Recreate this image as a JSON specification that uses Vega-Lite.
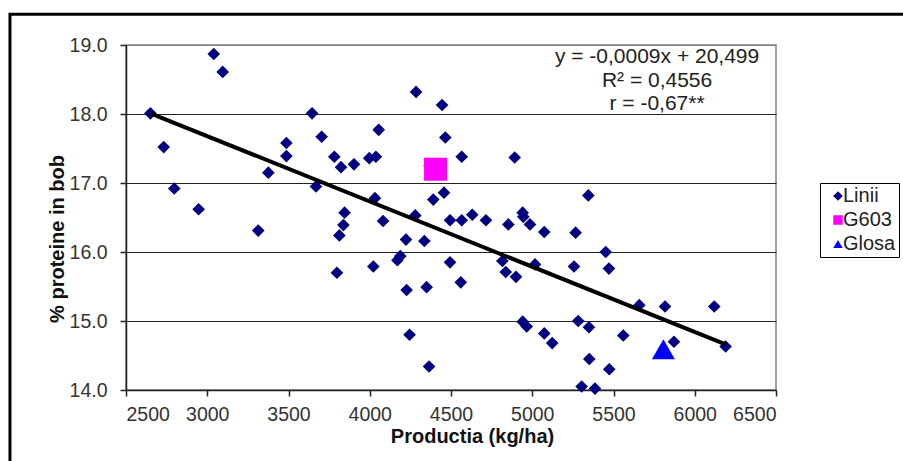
{
  "$schema": "https://vega.github.io/schema/vega-lite/v6.json",
  "autosize": {"type": "none"},
  "width": 650,
  "height": 345,
  "padding": {"left": 126, "top": 45, "right": 127, "bottom": 71},
  "background": "white",
  "config": {
    "font": "Liberation Sans",
    "view": {"stroke": "#808080", "strokeWidth": 1.5},
    "axis": {
      "labelFont": "Liberation Sans",
      "labelFontSize": 19.5,
      "labelColor": "#333",
      "titleFont": "Liberation Sans",
      "titleColor": "#111",
      "domainColor": "#222",
      "domainWidth": 1.5,
      "tickColor": "#222",
      "tickWidth": 1.5,
      "tickSize": 6
    },
    "legend": {
      "title": null,
      "orient": "none",
      "legendX": 694,
      "legendY": 138,
      "strokeColor": "black",
      "fillColor": "white",
      "padding": 3,
      "symbolSize": 90,
      "symbolOffset": 5,
      "symbolStrokeWidth": 0,
      "labelFont": "Liberation Sans",
      "labelFontSize": 20,
      "labelColor": "#222",
      "labelOffset": -5,
      "rowPadding": 4
    }
  },
  "datasets": {
    "pts": [
      {"x": 2650, "y": 18.01, "grp": "Linii"},
      {"x": 2732, "y": 17.52, "grp": "Linii"},
      {"x": 2797, "y": 16.92, "grp": "Linii"},
      {"x": 2947, "y": 16.62, "grp": "Linii"},
      {"x": 3040, "y": 18.87, "grp": "Linii"},
      {"x": 3095, "y": 18.61, "grp": "Linii"},
      {"x": 3314, "y": 16.31, "grp": "Linii"},
      {"x": 3376, "y": 17.15, "grp": "Linii"},
      {"x": 3487, "y": 17.58, "grp": "Linii"},
      {"x": 3487, "y": 17.39, "grp": "Linii"},
      {"x": 3645, "y": 18.01, "grp": "Linii"},
      {"x": 3669, "y": 16.95, "grp": "Linii"},
      {"x": 3704, "y": 17.67, "grp": "Linii"},
      {"x": 3782, "y": 17.38, "grp": "Linii"},
      {"x": 3823, "y": 17.23, "grp": "Linii"},
      {"x": 3798, "y": 15.70, "grp": "Linii"},
      {"x": 3813, "y": 16.24, "grp": "Linii"},
      {"x": 3838, "y": 16.39, "grp": "Linii"},
      {"x": 3845, "y": 16.57, "grp": "Linii"},
      {"x": 3903, "y": 17.27, "grp": "Linii"},
      {"x": 3997, "y": 17.36, "grp": "Linii"},
      {"x": 4038, "y": 17.38, "grp": "Linii"},
      {"x": 4055, "y": 17.77, "grp": "Linii"},
      {"x": 4032, "y": 16.78, "grp": "Linii"},
      {"x": 4022, "y": 15.79, "grp": "Linii"},
      {"x": 4082, "y": 16.45, "grp": "Linii"},
      {"x": 4170, "y": 15.88, "grp": "Linii"},
      {"x": 4188, "y": 15.94, "grp": "Linii"},
      {"x": 4223, "y": 16.18, "grp": "Linii"},
      {"x": 4227, "y": 15.45, "grp": "Linii"},
      {"x": 4245, "y": 14.80, "grp": "Linii"},
      {"x": 4280, "y": 16.53, "grp": "Linii"},
      {"x": 4285, "y": 18.32, "grp": "Linii"},
      {"x": 4336, "y": 16.16, "grp": "Linii"},
      {"x": 4350, "y": 15.49, "grp": "Linii"},
      {"x": 4365, "y": 14.34, "grp": "Linii"},
      {"x": 4368, "y": 17.25, "grp": "Linii"},
      {"x": 4391, "y": 16.76, "grp": "Linii"},
      {"x": 4445, "y": 18.13, "grp": "Linii"},
      {"x": 4457, "y": 16.86, "grp": "Linii"},
      {"x": 4465, "y": 17.66, "grp": "Linii"},
      {"x": 4494, "y": 16.46, "grp": "Linii"},
      {"x": 4494, "y": 15.85, "grp": "Linii"},
      {"x": 4560, "y": 15.56, "grp": "Linii"},
      {"x": 4566, "y": 17.38, "grp": "Linii"},
      {"x": 4566, "y": 16.46, "grp": "Linii"},
      {"x": 4631, "y": 16.54, "grp": "Linii"},
      {"x": 4715, "y": 16.46, "grp": "Linii"},
      {"x": 4816, "y": 15.87, "grp": "Linii"},
      {"x": 4837, "y": 15.71, "grp": "Linii"},
      {"x": 4853, "y": 16.40, "grp": "Linii"},
      {"x": 4892, "y": 17.37, "grp": "Linii"},
      {"x": 4900, "y": 15.64, "grp": "Linii"},
      {"x": 4941, "y": 16.57, "grp": "Linii"},
      {"x": 4945, "y": 16.51, "grp": "Linii"},
      {"x": 4941, "y": 14.99, "grp": "Linii"},
      {"x": 4966, "y": 14.92, "grp": "Linii"},
      {"x": 4986, "y": 16.40, "grp": "Linii"},
      {"x": 5017, "y": 15.82, "grp": "Linii"},
      {"x": 5074, "y": 16.29, "grp": "Linii"},
      {"x": 5074, "y": 14.82, "grp": "Linii"},
      {"x": 5123, "y": 14.68, "grp": "Linii"},
      {"x": 5267, "y": 16.28, "grp": "Linii"},
      {"x": 5257, "y": 15.79, "grp": "Linii"},
      {"x": 5283, "y": 15.00, "grp": "Linii"},
      {"x": 5304, "y": 14.05, "grp": "Linii"},
      {"x": 5345, "y": 16.82, "grp": "Linii"},
      {"x": 5349, "y": 14.91, "grp": "Linii"},
      {"x": 5351, "y": 14.45, "grp": "Linii"},
      {"x": 5386, "y": 14.02, "grp": "Linii"},
      {"x": 5452, "y": 16.00, "grp": "Linii"},
      {"x": 5472, "y": 15.76, "grp": "Linii"},
      {"x": 5474, "y": 14.30, "grp": "Linii"},
      {"x": 5560, "y": 14.79, "grp": "Linii"},
      {"x": 5659, "y": 15.23, "grp": "Linii"},
      {"x": 5817, "y": 15.21, "grp": "Linii"},
      {"x": 5872, "y": 14.70, "grp": "Linii"},
      {"x": 6120, "y": 15.21, "grp": "Linii"},
      {"x": 6190, "y": 14.63, "grp": "Linii"},
      {"x": 4405, "y": 17.20, "grp": "G603"},
      {"x": 5807, "y": 14.59, "grp": "Glosa"}
    ],
    "trend": [
      {"x": 2650, "y": 18.01},
      {"x": 6190, "y": 14.66}
    ],
    "note": [
      {"t": "y = -0,0009x  + 20,499\nR² = 0,4556\nr = -0,67**"}
    ],
    "frame": [{"id": 1}]
  },
  "layer": [
    {
      "data": {"name": "frame"},
      "mark": {"type": "rect", "fill": null, "stroke": "black", "strokeWidth": 3, "clip": false},
      "encoding": {
        "x": {"datum": 1786, "type": "quantitative"},
        "x2": {"datum": 7450},
        "y": {"datum": 19.445, "type": "quantitative"},
        "y2": {"datum": 12.6}
      }
    },
    {
      "data": {"name": "pts"},
      "transform": [{"filter": "datum.grp === 'Linii'"}],
      "mark": {"type": "point", "filled": true, "opacity": 1, "strokeWidth": 0, "size": 160},
      "encoding": {
        "x": {
          "field": "x", "type": "quantitative",
          "scale": {"domain": [2500, 6500], "nice": false, "zero": false},
          "axis": {
            "values": [2500, 3000, 3500, 4000, 4500, 5000, 5500, 6000, 6500],
            "grid": false,
            "format": "d",
            "labelPadding": 9,
            "title": "Productia (kg/ha)",
            "titleFontSize": 20,
            "titleFontWeight": "bold",
            "titleX": 346,
            "titleY": 52,
            "titleBaseline": "alphabetic",
            "titleAlign": "center"
          }
        },
        "y": {
          "field": "y", "type": "quantitative",
          "scale": {"domain": [14, 19], "nice": false, "zero": false},
          "axis": {
            "values": [14, 15, 16, 17, 18, 19],
            "format": ".1f",
            "grid": true,
            "gridColor": {"condition": {"test": "datum.value === 19", "value": "#808080"}, "value": "#222"},
            "gridWidth": 1.2,
            "labelPadding": 13,
            "title": "% proteine in bob",
            "titleFontSize": 20,
            "titleFontWeight": "bold",
            "titleX": -63,
            "titleY": 193.5,
            "titleAngle": -90,
            "titleBaseline": "alphabetic",
            "titleAlign": "center"
          }
        },
        "shape": {
          "field": "grp", "type": "nominal",
          "scale": {"domain": ["Linii", "G603", "Glosa"], "range": ["diamond", "square", "triangle-up"]}
        },
        "color": {
          "field": "grp", "type": "nominal",
          "scale": {"domain": ["Linii", "G603", "Glosa"], "range": ["#000080", "#FF00FF", "#0000FF"]}
        }
      }
    },
    {
      "data": {"name": "pts"},
      "transform": [{"filter": "datum.grp !== 'Linii'"}],
      "mark": {"type": "point", "filled": true, "opacity": 1, "strokeWidth": 0, "size": 530},
      "encoding": {
        "x": {"field": "x", "type": "quantitative"},
        "y": {"field": "y", "type": "quantitative"},
        "shape": {"field": "grp", "type": "nominal"},
        "color": {"field": "grp", "type": "nominal"}
      }
    },
    {
      "data": {"name": "trend"},
      "mark": {"type": "line", "color": "black", "strokeWidth": 4},
      "encoding": {
        "x": {"field": "x", "type": "quantitative"},
        "y": {"field": "y", "type": "quantitative"}
      }
    },
    {
      "data": {"name": "note"},
      "mark": {"type": "text", "font": "Liberation Sans", "fontSize": 21, "color": "#222", "align": "center", "baseline": "alphabetic", "lineBreak": "\n", "lineHeight": 23.3},
      "encoding": {
        "x": {"datum": 5768, "type": "quantitative"},
        "y": {"datum": 18.735, "type": "quantitative"},
        "text": {"field": "t"}
      }
    }
  ]
}
